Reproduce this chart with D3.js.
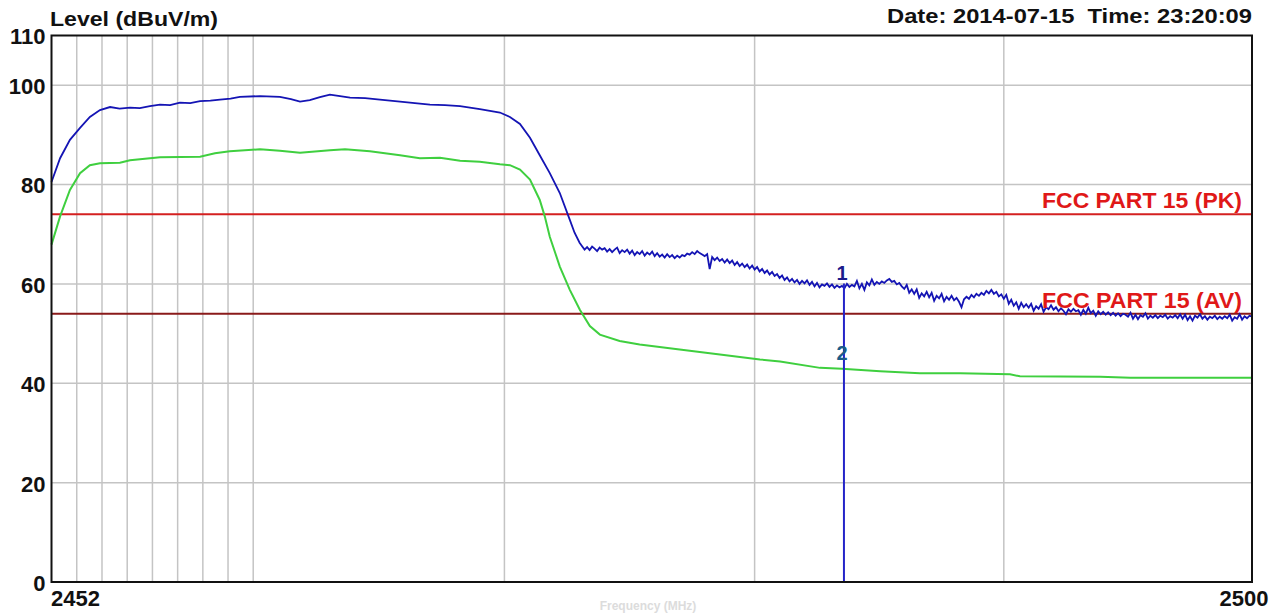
<!DOCTYPE html>
<html>
<head>
<meta charset="utf-8">
<script src="https://cdn.jsdelivr.net/npm/d3@7"></script>
<style>
  body { margin: 0; background: #fff; }
  svg { display: block; font-family: "Liberation Sans", Arial, sans-serif; }
</style>
</head>
<body>
<div id="chart"></div>
<script>
// axis ticks
const yTicks = [0, 20, 40, 60, 80, 100, 110];
const yGrid = [20, 40, 60, 80, 100];
const xGrid = [2453, 2454, 2455, 2456, 2457, 2458, 2459, 2460, 2470, 2480, 2490];
const xTicks = [2452, 2500];

// limit lines (dBuV/m)
const limits = [
    { name: 'FCC PART 15 (PK)', level: 74 },
    { name: 'FCC PART 15 (AV)', level: 54 }
];

// markers [MHz, dBuV/m]
const markers = [
    { id: '1', freq: 2483.5, level: 59.5 },
    { id: '2', freq: 2483.5, level: 42.9 }
];

// peak trace, smooth part [MHz, dBuV/m]
const peakHead = [
    [2452.0, 80.5], [2452.34, 85.3], [2452.73, 89.0], [2453.13, 91.4], [2453.52, 93.6],
    [2453.92, 95.0], [2454.32, 95.6], [2454.7, 95.3], [2455.11, 95.5], [2455.5, 95.4],
    [2455.9, 95.8], [2456.3, 96.1], [2456.7, 96.0], [2457.09, 96.5], [2457.5, 96.4],
    [2457.89, 96.8], [2458.3, 96.9], [2458.68, 97.1], [2459.1, 97.3], [2459.47, 97.65],
    [2460.27, 97.8], [2461.06, 97.65], [2461.5, 97.2], [2461.86, 96.7], [2462.25, 97.0],
    [2462.65, 97.6], [2463.05, 98.1], [2463.45, 97.8], [2463.85, 97.5], [2464.45, 97.4],
    [2465.04, 97.1], [2465.84, 96.7], [2466.43, 96.4], [2467.03, 96.1], [2467.63, 96.0],
    [2468.23, 95.8], [2469.02, 95.2], [2469.82, 94.5], [2470.22, 93.6], [2470.62, 92.2],
    [2471.02, 89.4], [2471.41, 85.9], [2471.81, 82.3], [2472.21, 78.3], [2472.61, 72.9],
    [2472.8, 70.3]
];

// peak trace, noisy part: sweep from 2473.0 MHz in 0.1 MHz steps
const peakSweepStart = 2473.0;
const peakSweepStep = 0.1;
const peakSweep = [
    68.3, 67.6, 66.9, 67.4, 66.8, 67.5, 67.1, 66.6, 67.3, 66.9,
    67.2, 66.5, 67.0, 66.4, 66.9, 67.3, 66.2, 66.8, 66.4, 66.9,
    66.1, 66.7, 65.8, 66.4, 66.0, 66.6, 65.7, 66.3, 65.9, 66.5,
    65.6, 66.2, 65.5, 65.9, 65.3, 66.0, 65.4, 65.8, 65.2, 65.7,
    65.3, 65.8, 65.6, 66.1, 65.9, 66.4, 66.0, 66.6, 66.2, 65.9,
    65.6, 66.0, 63.0, 65.4, 64.8, 65.3, 64.6, 65.0, 64.3, 64.9,
    64.2, 64.7, 63.8, 64.4, 63.6, 64.1, 63.4, 63.9, 63.1, 63.7,
    62.9, 63.4, 62.5, 63.0, 62.2, 62.7, 61.9, 62.4, 61.6, 62.0,
    61.2, 61.7, 60.8, 61.3, 60.5, 61.0, 60.3, 60.8, 60.0, 60.6,
    60.1, 60.7, 59.8, 60.4, 59.5, 60.2, 59.3, 59.9, 59.6, 60.1,
    59.4, 59.9, 59.2, 59.7, 59.3, 59.6, 59.1, 60.0, 59.4, 59.8,
    59.5, 60.6, 59.1, 60.0, 58.8, 60.3, 59.7, 60.9, 59.8, 60.4,
    60.0, 60.5, 60.2, 60.7, 61.0, 60.4, 60.6, 59.9, 60.2, 59.5,
    59.0, 59.8, 58.2, 58.9, 58.0, 58.9, 57.2, 58.1, 57.5, 58.4,
    57.3, 58.2, 56.6, 57.6, 57.1, 58.0, 56.5, 57.4, 56.8, 57.6,
    56.7, 57.2, 56.4, 55.3, 56.9, 57.4, 57.0, 57.8, 57.3, 58.0,
    57.6, 58.2, 57.8, 58.6, 58.1, 58.8, 58.0, 58.4, 57.5, 57.9,
    57.0, 57.8, 56.0, 56.8, 55.6, 56.3, 55.0, 56.2, 55.3, 55.9,
    55.2, 56.0, 54.6, 55.5, 55.0, 55.9, 54.4, 55.3, 54.9, 55.7,
    54.8, 55.3, 54.5, 55.1, 54.6, 53.9, 54.9, 54.4, 55.0, 54.5,
    54.7, 53.8, 54.8, 54.0, 55.2, 54.1, 54.6, 53.6, 54.5, 53.9,
    54.4, 53.8, 54.3, 53.7, 54.2, 53.6, 54.1, 53.5, 54.0, 53.8,
    53.4, 54.2, 53.0, 53.8, 52.9, 53.7, 53.4, 54.1, 53.0, 53.6,
    53.2, 53.7, 53.1, 53.6, 53.3, 53.8, 53.0, 53.5, 53.2, 53.7,
    53.1, 53.9, 53.0, 53.8, 52.7, 53.5, 52.6, 53.6, 53.2, 53.9,
    53.0, 53.5, 52.8, 53.4, 53.1, 53.6, 52.9, 53.4, 53.0, 53.5,
    53.1, 53.8, 52.6, 53.3, 53.0, 53.9, 52.8, 53.5, 53.1, 53.6,
    53.4
];

// average trace [MHz, dBuV/m]
const average = [
    [2452.0, 67.9], [2452.34, 73.6], [2452.73, 78.9], [2453.13, 82.3], [2453.52, 83.9],
    [2453.92, 84.3], [2454.71, 84.4], [2455.11, 84.9], [2456.3, 85.5], [2457.89, 85.6],
    [2458.48, 86.3], [2459.07, 86.7], [2460.27, 87.1], [2461.06, 86.8], [2461.86, 86.4],
    [2463.05, 86.9], [2463.65, 87.1], [2464.64, 86.7], [2465.84, 85.9], [2466.63, 85.3],
    [2467.43, 85.4], [2468.23, 84.8], [2469.02, 84.6], [2469.82, 84.1], [2470.22, 83.9],
    [2470.62, 83.0], [2471.02, 81.0], [2471.41, 76.9], [2471.61, 73.6], [2471.81, 69.5],
    [2472.21, 63.5], [2472.61, 58.8], [2473.01, 54.8], [2473.41, 51.5], [2473.81, 49.8],
    [2474.6, 48.5], [2475.4, 47.8], [2477.0, 46.8], [2478.61, 45.8], [2480.21, 44.8],
    [2481.02, 44.4], [2482.62, 43.1], [2483.5, 42.9], [2485.03, 42.4], [2486.63, 42.0],
    [2488.24, 42.0], [2490.25, 41.8], [2490.65, 41.4], [2493.88, 41.3], [2495.1, 41.1],
    [2500.0, 41.1]
];

const peak = peakHead.concat(peakSweep.map((v, i) => [peakSweepStart + i * peakSweepStep, v]));

const width = 1284, height = 614;
const plot = { left: 51.5, right: 1252, top: 35.5, bottom: 582 };

const svg = d3.select('#chart')
    .append('svg')
    .attr('width', width)
    .attr('height', height);

const x = d3.scaleLog()
    .domain([2452, 2500])
    .range([plot.left, plot.right]);

const y = d3.scaleLinear()
    .domain([0, 110])
    .range([plot.bottom, plot.top]);

// grid
svg.append('g')
    .selectAll('line')
    .data(yGrid)
    .enter()
    .append('line')
    .attr('x1', plot.left)
    .attr('x2', plot.right)
    .attr('y1', d => y(d))
    .attr('y2', d => y(d))
    .attr('stroke', '#c4c4c4')
    .attr('stroke-width', 1.5);

svg.append('g')
    .selectAll('line')
    .data(xGrid)
    .enter()
    .append('line')
    .attr('x1', d => x(d))
    .attr('x2', d => x(d))
    .attr('y1', plot.top)
    .attr('y2', plot.bottom)
    .attr('stroke', '#c4c4c4')
    .attr('stroke-width', 1.5);

// limit lines
svg.append('g')
    .selectAll('line')
    .data(limits)
    .enter()
    .append('line')
    .attr('x1', plot.left)
    .attr('x2', plot.right)
    .attr('y1', d => y(d.level))
    .attr('y2', d => y(d.level))
    .attr('stroke', (d, i) => i === 0 ? '#d42020' : '#8a1a1a')
    .attr('stroke-width', 2);

// traces
const line = d3.line()
    .x(d => x(d[0]))
    .y(d => y(d[1]));

svg.append('path')
    .datum(average)
    .attr('d', line)
    .attr('fill', 'none')
    .attr('stroke', '#3fcf3f')
    .attr('stroke-width', 2);

svg.append('path')
    .datum(peak)
    .attr('d', line)
    .attr('fill', 'none')
    .attr('stroke', '#1414b4')
    .attr('stroke-width', 1.8);

// limit labels
svg.append('g')
    .selectAll('text')
    .data(limits)
    .enter()
    .append('text')
    .text(d => d.name)
    .attr('x', plot.right - 10)
    .attr('y', d => y(d.level) - 6)
    .attr('text-anchor', 'end')
    .attr('textLength', 200)
    .attr('lengthAdjust', 'spacingAndGlyphs')
    .style('fill', '#e01818')
    .style('font-size', '22px')
    .style('font-weight', 'bold');

// marker line and labels
svg.append('line')
    .attr('x1', x(markers[0].freq) + 2)
    .attr('x2', x(markers[0].freq) + 2)
    .attr('y1', y(markers[0].level) - 3)
    .attr('y2', plot.bottom)
    .attr('stroke', '#2424c8')
    .attr('stroke-width', 2);

svg.append('g')
    .selectAll('text')
    .data(markers)
    .enter()
    .append('text')
    .text(d => d.id)
    .attr('x', d => x(d.freq))
    .attr('y', d => y(d.level) - (d.id === '1' ? 6 : 9))
    .attr('text-anchor', 'middle')
    .style('fill', d => d.id === '1' ? '#1c1c8c' : '#1a5c88')
    .style('font-size', '20px')
    .style('font-weight', 'bold');

// frame
svg.append('rect')
    .attr('x', plot.left)
    .attr('y', plot.top)
    .attr('width', plot.right - plot.left)
    .attr('height', plot.bottom - plot.top)
    .attr('fill', 'none')
    .attr('stroke', '#111')
    .attr('stroke-width', 2);

// axes
const yAxis = svg.append('g')
    .attr('transform', `translate(${plot.left},0)`)
    .call(d3.axisLeft(y).tickValues(yTicks).tickSize(0).tickPadding(6));
yAxis.select('.domain').remove();
yAxis.selectAll('text')
    .attr('dy', '0.38em')
    .style('font-size', '22px')
    .style('font-weight', 'bold')
    .style('font-family', '"Liberation Sans", Arial, sans-serif')
    .style('fill', '#111');

const xAxis = svg.append('g')
    .attr('transform', `translate(0,${plot.bottom})`)
    .call(d3.axisBottom(x).tickValues(xTicks).tickFormat(d3.format('d')).tickSize(0).tickPadding(8));
xAxis.select('.domain').remove();
xAxis.selectAll('text')
    .attr('dy', '0.71em')
    .attr('text-anchor', (d, i) => i === 0 ? 'start' : 'end')
    .attr('dx', (d, i) => i === 0 ? -1 : 16)
    .style('font-size', '22px')
    .style('font-weight', 'bold')
    .style('font-family', '"Liberation Sans", Arial, sans-serif')
    .style('fill', '#111');

// titles
svg.append('text')
    .text('Level (dBuV/m)')
    .attr('x', 50)
    .attr('y', 26)
    .attr('textLength', 168)
    .attr('lengthAdjust', 'spacingAndGlyphs')
    .style('font-size', '20px')
    .style('font-weight', 'bold')
    .style('fill', '#111');

svg.append('text')
    .text('Date: 2014-07-15  Time: 23:20:09')
    .attr('x', plot.right)
    .attr('y', 23)
    .attr('text-anchor', 'end')
    .attr('textLength', 365)
    .attr('lengthAdjust', 'spacingAndGlyphs')
    .attr('xml:space', 'preserve')
    .style('white-space', 'pre')
    .style('font-size', '20px')
    .style('font-weight', 'bold')
    .style('fill', '#111');

// x axis title, mostly lost below the frame in the original
svg.append('text')
    .text('Frequency (MHz)')
    .attr('x', 648)
    .attr('y', 610)
    .attr('text-anchor', 'middle')
    .style('font-size', '12px')
    .style('font-weight', 'bold')
    .style('fill', '#dcdcdc');
</script>
</body>
</html>
